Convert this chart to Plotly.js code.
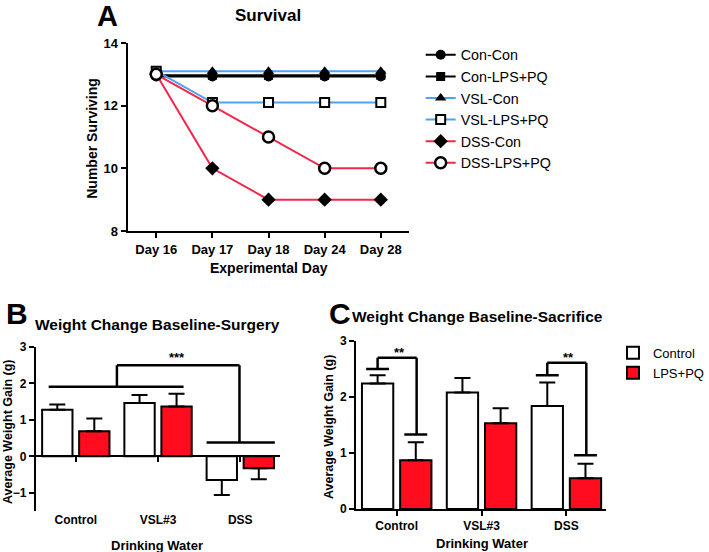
<!DOCTYPE html>
<html>
<head>
<meta charset="utf-8">
<script src="https://cdn.plot.ly/plotly-3.0.1.min.js"></script>
<style>html,body{margin:0;padding:0;background:#fff;}#chart{width:709px;height:552px;}</style>
</head>
<body>
<div id="chart"></div>
<script>
// ---------- Panel A: Survival ----------
const days = ['Day 16', 'Day 17', 'Day 18', 'Day 24', 'Day 28'];
const conCon = [12.93, 12.93, 12.93, 12.93, 12.93];
const conLpsPq = [12.97, 12.97, 12.97, 12.97, 12.97];
const vslCon = [13.1, 13.1, 13.1, 13.1, 13.1];
const vslLpsPq = [13.1, 12.1, 12.1, 12.1, 12.1];
const dssCon = [13, 10, 9, 9, 9];
const dssLpsPq = [13, 12, 11, 10, 10];
const survivalTicks = [8, 10, 12, 14];

// ---------- Panels B and C: weight change ----------
const waterGroups = ['Control', 'VSL#3', 'DSS'];
const surgeryControl = [1.28, 1.46, -0.65];
const surgeryControlErr = [0.14, 0.22, 0.41];
const surgeryLpsPq = [0.69, 1.37, -0.33];
const surgeryLpsPqErr = [0.35, 0.35, 0.30];
const sacrificeControl = [2.24, 2.08, 1.84];
const sacrificeControlErr = [0.15, 0.26, 0.42];
const sacrificeLpsPq = [0.87, 1.53, 0.55];
const sacrificeLpsPqErr = [0.32, 0.27, 0.26];
const weightTicksB = [-1, 0, 1, 2, 3];
const weightTicksC = [0, 1, 2, 3];

const BLACK = '#000000';
const BLUE = '#4fa2f2';
const RED = '#f2274b';
const BAR_RED = '#ff0d1e';

function lineTrace(name, y, color, marker) {
  return {
    type: 'scatter', mode: 'lines+markers', name: name,
    x: days, y: y, xaxis: 'x', yaxis: 'y', legend: 'legend',
    line: {color: color, width: 2},
    marker: marker, cliponaxis: false
  };
}
function upErr(vals, err) { return vals.map((v, i) => v >= 0 ? err[i] : 0); }
function downErr(vals, err) { return vals.map((v, i) => v < 0 ? err[i] : 0); }
function barTrace(name, vals, err, fill, xa, ya, show) {
  return {
    type: 'bar', name: name, x: waterGroups, y: vals, xaxis: xa, yaxis: ya,
    marker: {color: fill, line: {color: BLACK, width: 2}},
    error_y: {type: 'data', symmetric: false, array: upErr(vals, err), arrayminus: downErr(vals, err),
              color: BLACK, thickness: 2, width: 8},
    showlegend: show, legend: 'legend2'
  };
}

const data = [
  lineTrace('Con-Con', conCon, BLACK, {symbol: 'circle', size: 10, color: BLACK}),
  lineTrace('Con-LPS+PQ', conLpsPq, BLACK, {symbol: 'square', size: 9, color: BLACK}),
  lineTrace('VSL-Con', vslCon, BLUE, {symbol: 'triangle-up', size: 10, color: BLACK}),
  lineTrace('VSL-LPS+PQ', vslLpsPq, BLUE, {symbol: 'square', size: 9, color: '#ffffff', line: {color: BLACK, width: 2}}),
  lineTrace('DSS-Con', dssCon, RED, {symbol: 'diamond', size: 11, color: BLACK}),
  lineTrace('DSS-LPS+PQ', dssLpsPq, RED, {symbol: 'circle', size: 11, color: '#ffffff', line: {color: BLACK, width: 2.5}}),
  barTrace('Control', surgeryControl, surgeryControlErr, '#ffffff', 'x2', 'y2', false),
  barTrace('LPS+PQ', surgeryLpsPq, surgeryLpsPqErr, BAR_RED, 'x2', 'y2', false),
  barTrace('Control', sacrificeControl, sacrificeControlErr, '#ffffff', 'x3', 'y3', true),
  barTrace('LPS+PQ', sacrificeLpsPq, sacrificeLpsPqErr, BAR_RED, 'x3', 'y3', true)
];

const axisCommon = {
  showline: true, linecolor: BLACK, linewidth: 2, ticks: 'outside', ticklen: 5, tickwidth: 2,
  tickcolor: BLACK, showgrid: false, zeroline: false,
  tickfont: {size: 12, color: BLACK, weight: 'bold'}
};

// significance brackets (data coordinates on category index axes)
function seg(xref, yref, x0, y0, x1, y1) {
  return {type: 'line', xref: xref, yref: yref, x0: x0, y0: y0, x1: x1, y1: y1,
          line: {color: BLACK, width: 2.5}};
}
const shapes = [
  // Panel B
  seg('x2', 'y2', -0.33, 1.91, 1.31, 1.91),
  seg('x2', 'y2', 0.5, 1.91, 0.5, 2.5),
  seg('x2', 'y2', 0.5, 2.5, 1.99, 2.5),
  seg('x2', 'y2', 1.99, 2.5, 1.99, 0.38),
  seg('x2', 'y2', 1.59, 0.38, 2.42, 0.38),
  // Panel C, Control group
  seg('x3', 'y3', -0.36, 2.5, -0.09, 2.5),
  seg('x3', 'y3', -0.225, 2.5, -0.225, 2.7),
  seg('x3', 'y3', -0.225, 2.7, 0.235, 2.7),
  seg('x3', 'y3', 0.235, 2.7, 0.235, 1.33),
  seg('x3', 'y3', 0.09, 1.33, 0.36, 1.33),
  // Panel C, DSS group
  seg('x3', 'y3', 1.64, 2.39, 1.91, 2.39),
  seg('x3', 'y3', 1.775, 2.39, 1.775, 2.61),
  seg('x3', 'y3', 1.775, 2.61, 2.235, 2.61),
  seg('x3', 'y3', 2.235, 2.61, 2.235, 0.96),
  seg('x3', 'y3', 2.09, 0.96, 2.36, 0.96)
];

function paperText(text, x, y, size, extra) {
  return Object.assign({xref: 'paper', yref: 'paper', x: x / 709, y: 1 - y / 552, text: text,
    showarrow: false, xanchor: 'center', yanchor: 'middle',
    font: {size: size, color: BLACK, weight: 'bold'}}, extra || {});
}
const annotations = [
  paperText('A', 108, 16, 29),
  paperText('Survival', 269, 15, 17),
  paperText('Number Surviving', 92, 138, 14, {textangle: -90}),
  paperText('Experimental Day', 270, 268, 14),
  paperText('B', 17, 313, 30),
  paperText('Weight Change Baseline-Surgery', 33, 324, 15.5, {xanchor: 'left'}),
  paperText('Average Weight Gain (g)', 8, 432, 12.5, {textangle: -90}),
  paperText('Drinking Water', 157, 545, 13),
  paperText('C', 341, 313, 30),
  paperText('Weight Change Baseline-Sacrifice', 351, 316, 15.5, {xanchor: 'left'}),
  paperText('Average Weight Gain (g)', 330, 427, 12.5, {textangle: -90}),
  paperText('Drinking Water', 483, 543, 13),
  {xref: 'x2', yref: 'y2', x: 1.23, y: 2.7, text: '***', showarrow: false,
   font: {size: 13, color: BLACK, weight: 'bold'}},
  {xref: 'x3', yref: 'y3', x: 0.035, y: 2.8, text: '**', showarrow: false,
   font: {size: 13, color: BLACK, weight: 'bold'}},
  {xref: 'x3', yref: 'y3', x: 2.02, y: 2.71, text: '**', showarrow: false,
   font: {size: 13, color: BLACK, weight: 'bold'}}
];

const layout = {
  width: 709, height: 552,
  margin: {l: 0, r: 0, t: 0, b: 0},
  paper_bgcolor: '#ffffff', plot_bgcolor: '#ffffff',
  font: {family: 'Liberation Sans, Arial, sans-serif', color: BLACK},
  barmode: 'group', bargap: 0.1, bargroupgap: 0.18,
  xaxis: Object.assign({}, axisCommon, {domain: [0.1805, 0.5783], anchor: 'y', type: 'category',
    range: [-0.51, 4.5], tickfont: {size: 13, color: BLACK, weight: 'bold'}}),
  yaxis: Object.assign({}, axisCommon, {domain: [0.5815, 0.9221], anchor: 'x', range: [8, 14],
    tickvals: survivalTicks, tickfont: {size: 13, color: BLACK, weight: 'bold'}}),
  xaxis2: Object.assign({}, axisCommon, {domain: [0.0508, 0.3963], anchor: 'free', position: 0.1733,
    type: 'category', range: [-0.485, 2.485], ticklabelstandoff: 47}),
  yaxis2: Object.assign({}, axisCommon, {domain: [0.0743, 0.3714], anchor: 'x2', range: [-1.5, 3],
    tickvals: weightTicksB}),
  xaxis3: Object.assign({}, axisCommon, {domain: [0.5035, 0.8575], anchor: 'y3', type: 'category',
    range: [-0.48, 2.47]}),
  yaxis3: Object.assign({}, axisCommon, {domain: [0.0779, 0.3822], anchor: 'x3', range: [0, 3],
    tickvals: weightTicksC}),
  legend: {x: 0.595, y: 0.9293, xanchor: 'left', yanchor: 'top', bgcolor: 'rgba(0,0,0,0)',
    font: {size: 14.3, color: BLACK}, tracegroupgap: 0, itemwidth: 30},
  legend2: {x: 0.867, y: 0.388, xanchor: 'left', yanchor: 'top', bgcolor: 'rgba(0,0,0,0)',
    font: {size: 13, color: BLACK}, tracegroupgap: 0, itemwidth: 30},
  shapes: shapes,
  annotations: annotations
};

Plotly.newPlot('chart', data, layout, {displayModeBar: false, staticPlot: true});
</script>
</body>
</html>
